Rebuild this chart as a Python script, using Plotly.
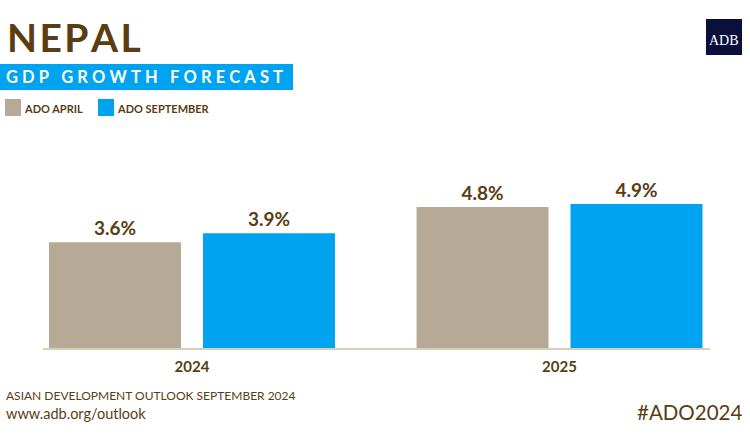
import plotly.graph_objects as go

years = ["2024", "2025"]
ado_april = [3.6, 4.8]
ado_september = [3.9, 4.9]
series_names = ["ADO APRIL", "ADO SEPTEMBER"]

W, H = 750, 439
ML, MR, MT, MB = 43, 40, 150, 91
PW, PH = W - ML - MR, H - MT - MB

def px(x):
    return (x - ML) / PW

def py(y):
    return (H - MB - y) / PH

def spaced(s, sep="\u2009"):
    return sep.join(list(s))

BROWN = "#5a3d12"
TAN = "#b6aa96"
BLUE = "#00a3f0"
FONT = "Lato"

fig = go.Figure()
for name, vals, col in [(series_names[0], ado_april, TAN), (series_names[1], ado_september, BLUE)]:
    fig.add_trace(go.Bar(
        x=years, y=vals, name=name, marker=dict(color=col, line=dict(width=0)),
        texttemplate="<b>%{y:.1f}%</b>", textposition="outside",
        textfont=dict(family=FONT, size=19, color=BROWN),
        cliponaxis=False, showlegend=False, hoverinfo="skip",
    ))

shapes = []
annotations = []

# title band
shapes.append(dict(type="rect", xref="paper", yref="paper",
                   x0=px(0), x1=px(293), y0=py(90), y1=py(64),
                   fillcolor=BLUE, line=dict(width=0), layer="below"))
annotations.append(dict(text="<b>" + spaced("NEPAL", "\u200a") + "</b>", xref="paper", yref="paper",
                        x=px(5), y=py(37), xanchor="left", yanchor="middle",
                        showarrow=False, font=dict(family=FONT, size=39, color=BROWN)))
annotations.append(dict(text="<b>" + spaced("GDP GROWTH FORECAST", "\u2009\u200a\u200a") + "</b>",
                        xref="paper", yref="paper",
                        x=px(4), y=py(77), xanchor="left", yanchor="middle",
                        showarrow=False, font=dict(family=FONT, size=16.5, color="white")))

# legend swatches
for x0, col, label in [(5, TAN, series_names[0]), (98, BLUE, series_names[1])]:
    shapes.append(dict(type="rect", xref="paper", yref="paper",
                       x0=px(x0), x1=px(x0 + 16), y0=py(116), y1=py(99),
                       fillcolor=col, line=dict(width=0)))
    annotations.append(dict(text="<b>" + label + "</b>", xref="paper", yref="paper",
                            x=px(x0 + 17), y=py(108), xanchor="left", yanchor="middle",
                            showarrow=False, font=dict(family=FONT, size=11, color=BROWN)))

# ADB logo
shapes.append(dict(type="rect", xref="paper", yref="paper",
                   x0=px(706), x1=px(742), y0=py(55), y1=py(19),
                   fillcolor="#0b0f3b", line=dict(width=0)))
annotations.append(dict(text="ADB", xref="paper", yref="paper",
                        x=px(724), y=py(40), xanchor="center", yanchor="middle",
                        showarrow=False, font=dict(family="Liberation Serif", size=14, color="white")))

# footer
annotations.append(dict(text="ASIAN DEVELOPMENT OUTLOOK SEPTEMBER 2024", xref="paper", yref="paper",
                        x=px(4), y=py(395), xanchor="left", yanchor="middle",
                        showarrow=False, font=dict(family=FONT, size=12, color=BROWN)))
annotations.append(dict(text="www.adb.org/outlook", xref="paper", yref="paper",
                        x=px(4), y=py(413), xanchor="left", yanchor="middle",
                        showarrow=False, font=dict(family=FONT, size=14.5, color=BROWN)))
annotations.append(dict(text="#ADO2024", xref="paper", yref="paper",
                        x=px(744), y=py(412), xanchor="right", yanchor="middle",
                        showarrow=False, font=dict(family=FONT, size=20.5, color=BROWN)))

unit = 367.5
fig.update_layout(
    width=W, height=H,
    margin=dict(l=ML, r=MR, t=MT, b=MB, pad=0),
    paper_bgcolor="white", plot_bgcolor="white",
    barmode="group", bargap=0.162, bargroupgap=0.143,
    xaxis=dict(type="category", range=[-(192 - ML) / unit, -(192 - ML) / unit + PW / unit],
               showline=True, linecolor="#d9ceb8", linewidth=2, showgrid=False,
               ticks="", tickfont=dict(family=FONT, size=15, color=BROWN),
               ticklabelstandoff=4,
               tickprefix="<b>", ticksuffix="</b>", fixedrange=True),
    yaxis=dict(range=[0, PH / 29.4], visible=False, showgrid=False, zeroline=False, fixedrange=True),
    shapes=shapes, annotations=annotations,
    showlegend=False, hovermode=False,
)

fig.write_html("out.html", config={"displayModeBar": False},
               post_script="document.body.style.margin='0';")
